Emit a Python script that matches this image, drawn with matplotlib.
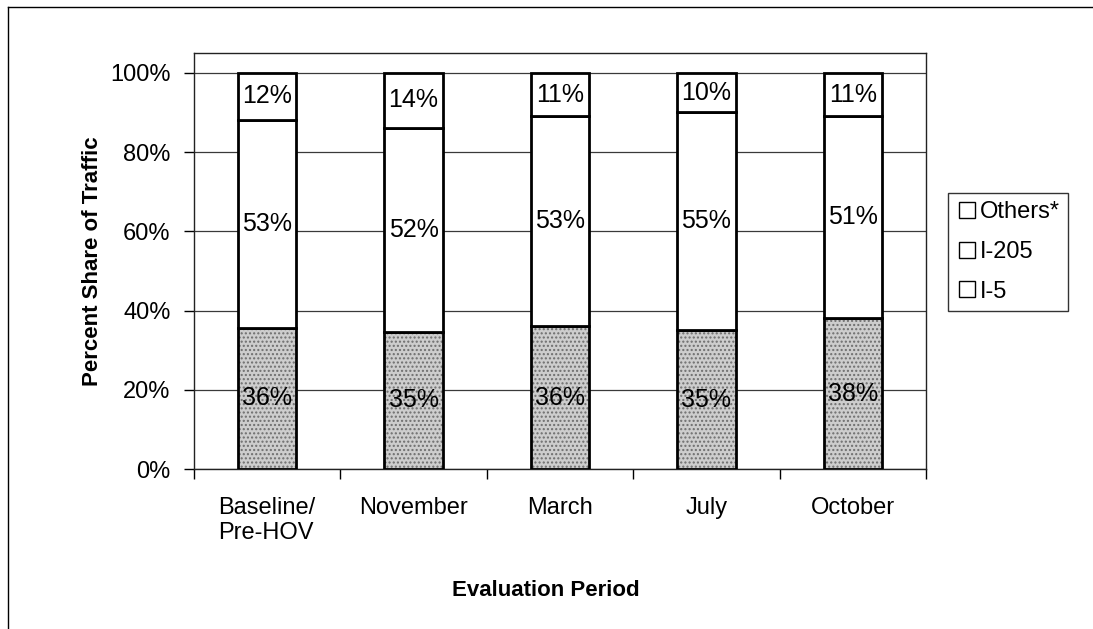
import matplotlib.pyplot as plt
import numpy as np
from matplotlib.lines import Line2D

# Data
periods = ['Baseline/\nPre-HOV', 'November', 'March', 'July', 'October']
i5 = [36, 35, 36, 35, 38]
i205 = [53, 52, 53, 55, 51]
others = [12, 14, 11, 10, 11]
series_names = ['I-5', 'I-205', 'Others*']

plt.rcParams['font.family'] = ['Liberation Sans', 'DejaVu Sans']

fig = plt.figure(figsize=(10.93, 6.29), dpi=100)
ax = fig.add_axes([194 / 1093, 1 - 469 / 629, 732 / 1093, 416 / 629])

x = np.arange(len(periods))
raw = np.array([i5, i205, others], dtype=float)
shares = raw / raw.sum(axis=0) * 100  # 100% stacked, like Excel
width = 0.40

bottom = np.zeros(len(periods))
for k, name in enumerate(series_names):
    if name == 'I-5':
        # stippled grey fill
        ax.bar(x, shares[k], width, bottom=bottom, color='#cdcdcd', edgecolor='#6e6e6e',
               hatch='....', linewidth=0, zorder=2)
        ax.bar(x, shares[k], width, bottom=bottom, fill=False, edgecolor='black',
               linewidth=2, zorder=3)
    else:
        ax.bar(x, shares[k], width, bottom=bottom, color='white', edgecolor='black',
               linewidth=2, zorder=3)
    for i in range(len(periods)):
        ax.text(x[i], bottom[i] + shares[k][i] / 2, f'{int(raw[k][i])}%', ha='center', va='center',
                fontsize=18, zorder=4)
    bottom += shares[k]

ax.set_xlim(-0.5, len(periods) - 0.5)
ax.set_ylim(0, 105)
ax.set_yticks(np.arange(0, 101, 20))
ax.set_yticklabels([f'{v}%' for v in range(0, 101, 20)], fontsize=17)
ax.yaxis.grid(True, color='#3a3a3a', linewidth=0.9, zorder=1)
ax.set_axisbelow(True)

ax.set_xticks(x)
ax.set_xticklabels(periods, fontsize=17, multialignment='left')
ax.set_xticks(np.arange(-0.5, len(periods)), minor=True)
ax.tick_params(axis='x', which='major', length=0, pad=20)
ax.tick_params(axis='x', which='minor', length=7, width=1, direction='out')
ax.tick_params(axis='y', length=7, width=1, direction='out', pad=10)

for s in ax.spines.values():
    s.set_linewidth(1)
    s.set_color('#222222')

fig.text(92 / 1093, 1 - 261 / 629, 'Percent Share of Traffic', rotation=90, ha='center', va='center',
         fontsize=16, fontweight='bold')
fig.text(546 / 1093, 1 - 590 / 629, 'Evaluation Period', ha='center', va='center',
         fontsize=16, fontweight='bold')

# legend with hollow square markers
handles = [Line2D([], [], marker='s', linestyle='none', markersize=11, markerfacecolor='white',
                  markeredgecolor='black', markeredgewidth=1) for _ in series_names]
leg = fig.legend(handles[::-1], series_names[::-1], loc='lower left',
                 bbox_to_anchor=(948 / 1093, 1 - 311 / 629), fontsize=17, frameon=True,
                 fancybox=False, handletextpad=0.1, handlelength=0.9, labelspacing=0.75,
                 borderpad=0.35, borderaxespad=0, handleheight=0.7)
leg.get_frame().set_edgecolor('black')
leg.get_frame().set_linewidth(1)

# outer chart border (top and left visible in the scan)
fig.add_artist(Line2D([8 / 1093, 1], [1 - 7 / 629, 1 - 7 / 629], color='black', linewidth=1))
fig.add_artist(Line2D([8 / 1093, 8 / 1093], [0, 1 - 7 / 629], color='black', linewidth=1))

fig.savefig('out.png', dpi=100)
